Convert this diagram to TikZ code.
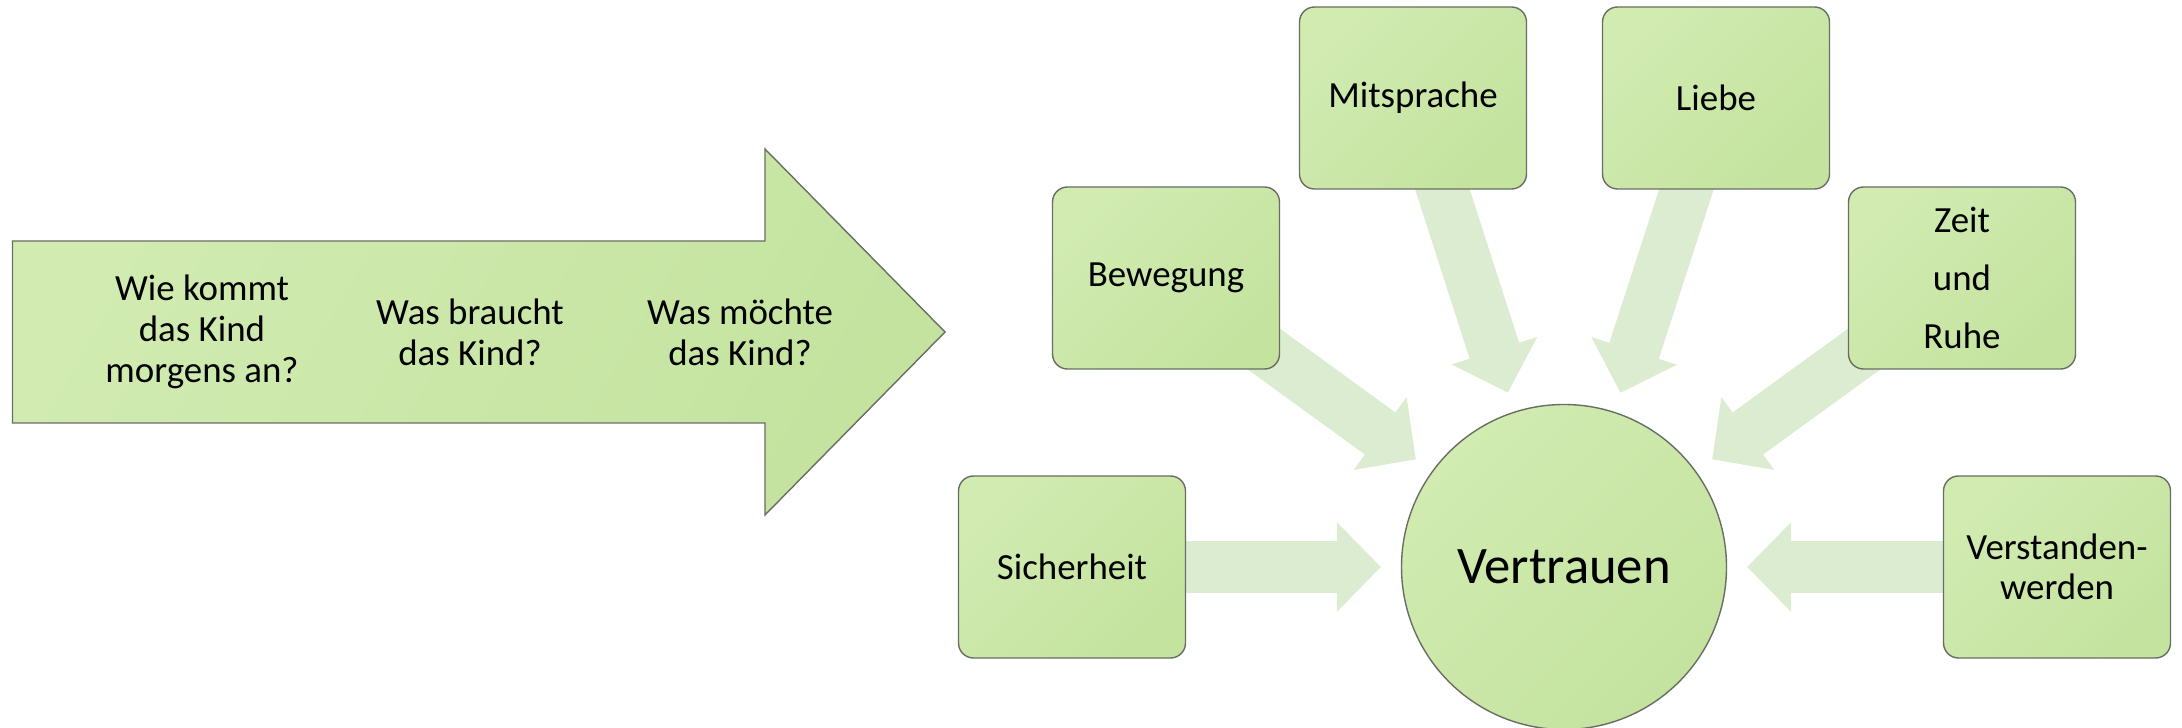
\documentclass[tikz,border=0pt]{standalone}
\usepackage{fontspec}
\setmainfont{Carlito}
\usetikzlibrary{arrows.meta,backgrounds}
\definecolor{leaflight}{RGB}{209,235,177}
\definecolor{leafdark}{RGB}{196,227,159}
\definecolor{rim}{RGB}{105,110,100}
\definecolor{rayfill}{RGB}{220,236,208}

\begin{document}
\begin{tikzpicture}
    \def\bw{2.27cm}
    \def\bh{1.82cm}
    \def\ry{-5.67}
    \def\qy{-3.32}

    \tikzstyle{flow}=[draw=rim,line width=0.4pt,top color=leaflight,bottom color=leafdark,shading angle=60]
    \tikzstyle{word}=[align=center,font=\fontsize{10.5}{11.7}\selectfont]
    \tikzstyle{box}=[draw=rim,line width=0.4pt,rounded corners=0.15cm,top color=leaflight,bottom color=leafdark,shading angle=45,minimum width=\bw,minimum height=\bh,align=center,font=\fontsize{10.5}{11.5}\selectfont]
    \tikzstyle{hub}=[circle,draw=rim,line width=0.4pt,top color=leaflight,bottom color=leafdark,shading angle=45,minimum size=3.25cm,inner sep=0pt,font=\fontsize{15}{18}\selectfont]
    \tikzstyle{ray}=[draw=rayfill,line width=0.52cm,-{Triangle[width=0.9cm,length=0.44cm,line width=0pt]},shorten >=0.2cm]

    \useasboundingbox (0,0) rectangle (21.82,-7.28);

    % the big arrow on the left
    \draw [flow] (0.125,-2.41) -- (7.65,-2.41) -- (7.65,-1.49) -- (9.45,-3.32)
        -- (7.65,-5.15) -- (7.65,-4.23) -- (0.125,-4.23) -- cycle;

    \node[word] (q1) at (2.02,\qy) {Wie kommt\\das Kind\\morgens an?};
    \node[word] (q2) at (4.70,\qy) {Was braucht\\das Kind?};
    \node[word] (q3) at (7.40,\qy) {Was möchte\\das Kind?};

    % the boxes round the circle
    \node[hub] (vt) at (15.64,\ry) {Vertrauen};

    \node[box] (bew) at (11.66,-2.78) {Bewegung};
    \node[box] (mit) at (14.13,-0.98) {Mitsprache};
    \node[box] (lie) at (17.16,-0.98) {Liebe};
    \node[box,font=\fontsize{10.5}{16.5}\selectfont] (zeit) at (19.62,-2.78) {Zeit\\und\\Ruhe};
    \node[box] (sich) at (10.72,\ry) {Sicherheit};
    \node[box] (vers) at (20.57,\ry) {Verstanden-\\werden};

    \begin{scope}[on background layer]
    \draw [ray] (sich.center) -- (vt);
    \draw [ray] (bew.center) -- (vt);
    \draw [ray] (mit.center) -- (vt);
    \draw [ray] (lie.center) -- (vt);
    \draw [ray] (zeit.center) -- (vt);
    \draw [ray] (vers.center) -- (vt);
    \end{scope}

\end{tikzpicture}
\end{document}
